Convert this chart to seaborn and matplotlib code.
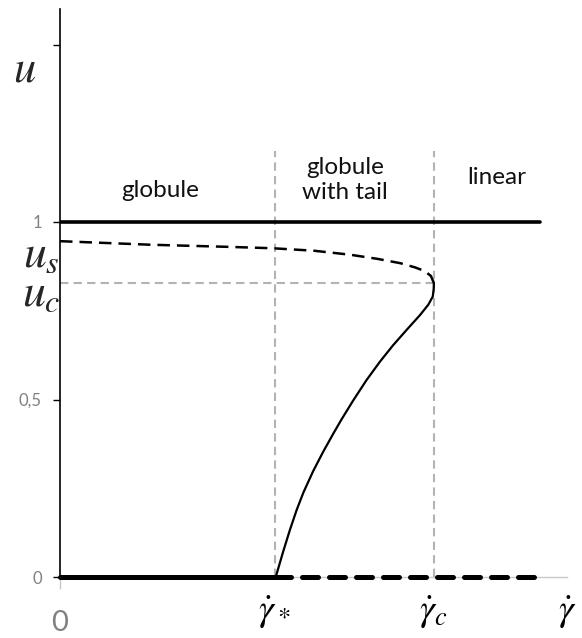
import numpy as np
import pandas as pd
import matplotlib
matplotlib.use("Agg")
import matplotlib.pyplot as plt
import matplotlib.transforms as mtransforms
import seaborn as sns

# ---------------------------
# Data
# ---------------------------
G_STAR = 0.575   # gamma_dot_*
G_C = 1.0        # gamma_dot_c
X_END = 1.283    # where the horizontal branches stop
X_MAX = 1.356
U_C = 0.828

# stable branch u (solid) between gamma_* and gamma_c
branch_x = [0.577, 0.597, 0.615, 0.633, 0.651, 0.677, 0.704, 0.731, 0.753,
            0.784, 0.820, 0.856, 0.891, 0.927, 0.963, 0.985, 0.997, 0.9995,
            1.000]
branch_u = [0.000, 0.072, 0.133, 0.189, 0.238, 0.298, 0.353, 0.404, 0.444,
            0.497, 0.555, 0.607, 0.653, 0.696, 0.738, 0.767, 0.790, 0.812,
            0.828]

# unstable branch u_s (dashed)
us_x = [0.000, 0.241, 0.450, 0.570, 0.680, 0.775, 0.850, 0.910, 0.950,
        0.975, 0.992, 1.000]
us_u = [0.946, 0.936, 0.930, 0.926, 0.919, 0.908, 0.896, 0.884, 0.872,
        0.862, 0.848, 0.828]

top_x = [0.0, X_END]
top_u = [1.0, 1.0]

zero_solid_x = [0.0, G_STAR]
zero_dash_x = [G_STAR, X_END]
zero_u = [0.0, 0.0]

region_labels = ["globule", "globule\nwith tail", "linear"]
region_x = [0.267, 0.762, 1.168]
region_u = [1.09, 1.118, 1.124]

ytick_vals = [0, 0.5, 1, 1.5]
ytick_text = ["0", "0,5", "1", ""]

xtick_vals = [0, G_STAR, G_C, X_MAX]
xtick_text = ["0", r"$\dot{\gamma}_*$", r"$\dot{\gamma}_c$", r"$\dot{\gamma}$"]

# ---------------------------
# Style
# ---------------------------
sns.set_style("white")
plt.rcParams["font.family"] = ["Lato", "DejaVu Sans"]
plt.rcParams["mathtext.fontset"] = "stix"

GREY = "#b3b3b3"
LABEL_GREY = "#808080"

fig = plt.figure(figsize=(5.82, 6.38), dpi=100)
ax = fig.add_axes([60 / 582, 61 / 638, 507 / 582, 568 / 638])

# guide lines
ax.vlines([G_STAR, G_C], 0, 1.2, colors=GREY, linewidth=1.5,
          linestyles=(0, (4, 2.5)), zorder=1)
ax.hlines(U_C, 0, G_C, colors=GREY, linewidth=1.5,
          linestyles=(0, (4, 2.5)), zorder=1)

# curves
sns.lineplot(x=top_x, y=top_u, ax=ax, color="black", linewidth=2.6)
sns.lineplot(x=zero_solid_x, y=zero_u, ax=ax, color="black", linewidth=3.6,
             clip_on=False, zorder=3)
sns.lineplot(x=zero_dash_x, y=zero_u, ax=ax, color="black", linewidth=3.6,
             linestyle=(0, (3.2, 2.2)), dash_capstyle="round",
             clip_on=False, zorder=3)
sns.lineplot(x=branch_x, y=branch_u, ax=ax, color="black", linewidth=1.6,
             sort=False)
sns.lineplot(x=us_x, y=us_u, ax=ax, color="black", linewidth=1.8,
             linestyle=(0, (5, 2.8)), sort=False)

# region names
for txt, xx, yy in zip(region_labels, region_x, region_u):
    ax.text(xx, yy, txt, ha="center", va="center", fontsize=17.5,
            linespacing=1.2, color="#111111")

# axis symbols
ax.text(-0.094, 1.43, r"$u$", fontsize=32, ha="center", va="center")
ax.text(-0.05, 0.909, r"$u_s$", fontsize=33, ha="center", va="center")
ax.text(-0.05, 0.800, r"$u_c$", fontsize=33, ha="center", va="center")

ax.set_xlim(0, X_MAX)
ax.set_ylim(0, 1.6)

ax.set_yticks(ytick_vals)
ax.set_yticklabels(ytick_text)
ax.tick_params(axis="y", direction="out", length=5, width=1, color="black",
               labelcolor=LABEL_GREY, labelsize=12, pad=8, left=True)

ax.set_xticks(xtick_vals)
ax.set_xticklabels(xtick_text)
ax.tick_params(axis="x", length=0, pad=12)
for i, lab in enumerate(ax.get_xticklabels()):
    if i == 0:
        lab.set_fontsize(21)
        lab.set_color(LABEL_GREY)
        shift = mtransforms.ScaledTranslation(0, -16 / 100, fig.dpi_scale_trans)
        lab.set_transform(lab.get_transform() + shift)
    else:
        lab.set_fontsize(27)
        lab.set_color("black")

for side in ["top", "right"]:
    ax.spines[side].set_visible(False)
ax.spines["left"].set_color("black")
ax.spines["left"].set_linewidth(1.2)
ax.spines["bottom"].set_color("#c8c8c8")
ax.spines["bottom"].set_linewidth(1.0)

# small grey extension of the y axis below zero
ax.vlines(0, -0.035, 0, colors="#c8c8c8", linewidth=1.0, clip_on=False)

ax.set_xlabel("")
ax.set_ylabel("")

fig.savefig("out.png", dpi=100)
